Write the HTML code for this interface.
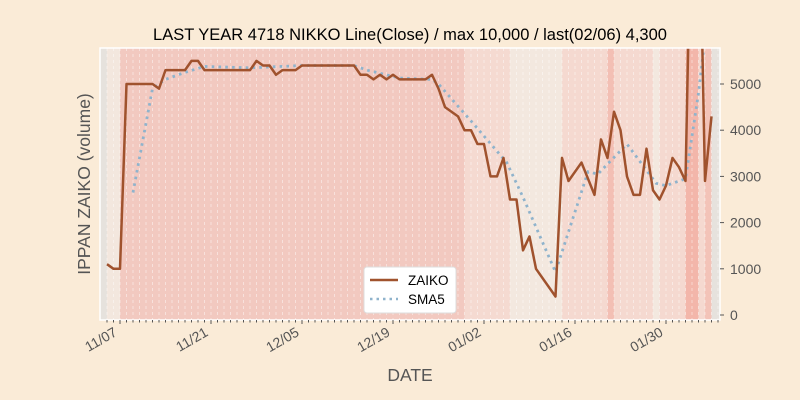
<!DOCTYPE html>
<html><head><meta charset="utf-8"><style>
body{margin:0;background:#faebd7;}
svg{display:block;font-family:"Liberation Sans","DejaVu Sans",sans-serif;}
</style></head><body>
<svg id="chart" width="800" height="400">
<rect width="800" height="400" fill="#faebd7"/>
<text x="410" y="40" text-anchor="middle" font-size="16.5" fill="#000">LAST YEAR 4718 NIKKO Line(Close) / max 10,000 / last(02/06) 4,300</text>
<g id="bands"></g>
<g id="grid"></g>
<g id="series"></g>
<rect x="100" y="48" width="620" height="272" fill="none" stroke="#fff" stroke-width="1.5"/>
<g id="axes"></g>
<text transform="translate(90,184) rotate(-90)" text-anchor="middle" font-size="17.5" fill="#555">IPPAN ZAIKO (volume)</text>
<text x="410" y="381" text-anchor="middle" font-size="17.5" fill="#555">DATE</text>
<g>
<rect x="364" y="267" width="92" height="46" rx="3" fill="#fff" stroke="#ddd"/>
<line x1="370" y1="280" x2="398" y2="280" stroke="#a0522d" stroke-width="2.5"/>
<text x="408" y="285" font-size="13.5">ZAIKO</text>
<line x1="370" y1="299" x2="398" y2="299" stroke="#8fb3cc" stroke-width="2.5" stroke-dasharray="2.5,4"/>
<text x="408" y="304" font-size="13.5">SMA5</text>
</g>
</svg>
<script>
const zaikoDays=[-2,-1,0,1,5,6,7,10,11,12,13,20,21,22,23,24,25,27,28,36,37,38,39,40,41,42,43,47,48,49,50,52,53,54,55,56,57,58,59,60,61,62,63,64,67,68,69,71,73,74,75,76,77,78,79,80,81,82,83,84,85,86,87,88,89,90,91];
const zaikoValues=[1100,1000,1000,5000,5000,4900,5300,5300,5500,5500,5300,5300,5500,5400,5400,5200,5300,5300,5400,5400,5200,5200,5100,5200,5100,5200,5100,5100,5200,4900,4500,4300,4000,4000,3700,3700,3000,3000,3400,2500,2500,1400,1700,1000,400,3400,2900,3300,2600,3800,3400,4400,4000,3000,2600,2600,3600,2700,2500,2800,3400,3200,2900,10000,10000,2900,4300];
const smaDays=[2,5,7,10,13,20,28,36,38,43,48,49,54,59.5,62,67,72,73.5,78,82.5,84,87,89,90];
const smaValues=[2650,4900,5100,5250,5380,5350,5400,5400,5300,5130,5100,5000,4200,3300,2550,930,3100,3050,3700,2850,2800,2950,4800,6000];
const yTicks=[0,1000,2000,3000,4000,5000];
const xTickDays=[0,14,28,42,56,70,84];
const xTickLabels=["11/07","11/21","12/05","12/19","01/02","01/16","01/30"];
const bandStarts=[-3,-2,0,53,60,68,75,76,82,83,87,89,90,91];
const bandColors=["#e6e2dd","#f3e7de","#f2c9c0","#f5dad1","#f3e8df","#f5d9d0","#f3bfb4","#f5d9d0","#f3e8df","#f5d9d0","#f3b6aa","#f5d9d0","#f3c3b8","#e6e2dd"];
const X0=120,DX=6.5,Y0=315,DY=46.2/1000,XL=100,XR=720,YT=48,YB=320;
const x=d=>X0+d*DX, y=v=>Y0-v*DY;
const NS="http://www.w3.org/2000/svg";
function mk(t,a,p){const e=document.createElementNS(NS,t);for(const k in a)e.setAttribute(k,a[k]);p.appendChild(e);return e;}
const bands=document.getElementById('bands');
for(let i=0;i<bandStarts.length;i++){
  const a=Math.max(XL,x(bandStarts[i])), b=i+1<bandStarts.length?x(bandStarts[i+1]):XR;
  const r=mk('rect',{x:a,y:YT,width:Math.max(0,Math.min(XR,b)-a),height:YB-YT,fill:bandColors[i]},bands);
  
  
}
const grid=document.getElementById('grid');
for(let d=-2;d<=92;d++){
  const l=mk('line',{x1:x(d),x2:x(d),y1:YT,y2:YB,stroke:'#fff','stroke-opacity':0.55,'stroke-width':0.8,'stroke-dasharray':'3,3'},grid);
  
  
}
const series=document.getElementById('series');
const cp=mk('clipPath',{id:'clip'},series);
mk('rect',{x:XL,y:YT,width:XR-XL,height:YB-YT},cp);
const sp=mk('polyline',{points:smaDays.map((d,i)=>x(d)+','+y(smaValues[i])).join(' '),fill:'none',stroke:'#8fb3cc','stroke-width':2.8,'stroke-dasharray':'2.6,4.2','clip-path':'url(#clip)'},series);


const zp=mk('polyline',{points:zaikoDays.map((d,i)=>x(d)+','+y(zaikoValues[i])).join(' '),fill:'none',stroke:'#a0522d','stroke-width':2.5,'stroke-linejoin':'round','clip-path':'url(#clip)'},series);


const axes=document.getElementById('axes');
yTicks.forEach(v=>{
  const t=mk('line',{x1:XR,x2:XR+4,y1:y(v),y2:y(v),stroke:'#555'},axes);
  
  
  const tx=mk('text',{x:XR+10,y:y(v)+5,'font-size':14,fill:'#555'},axes);
  tx.textContent=v;
  
  
});
for(let d=-2;d<=92;d++){
  const major=xTickDays.includes(d);
  const t=mk('line',{x1:x(d),x2:x(d),y1:YB,y2:YB+(major?4:2.5),stroke:'#555'},axes);
  
  
}
xTickDays.forEach((d,i)=>{
  const tx=mk('text',{transform:`translate(${x(d)-2},${YB+15}) rotate(-30)`,'text-anchor':'end','font-size':14,fill:'#555'},axes);
  tx.textContent=xTickLabels[i];
  
  
});
</script>
</body></html>
